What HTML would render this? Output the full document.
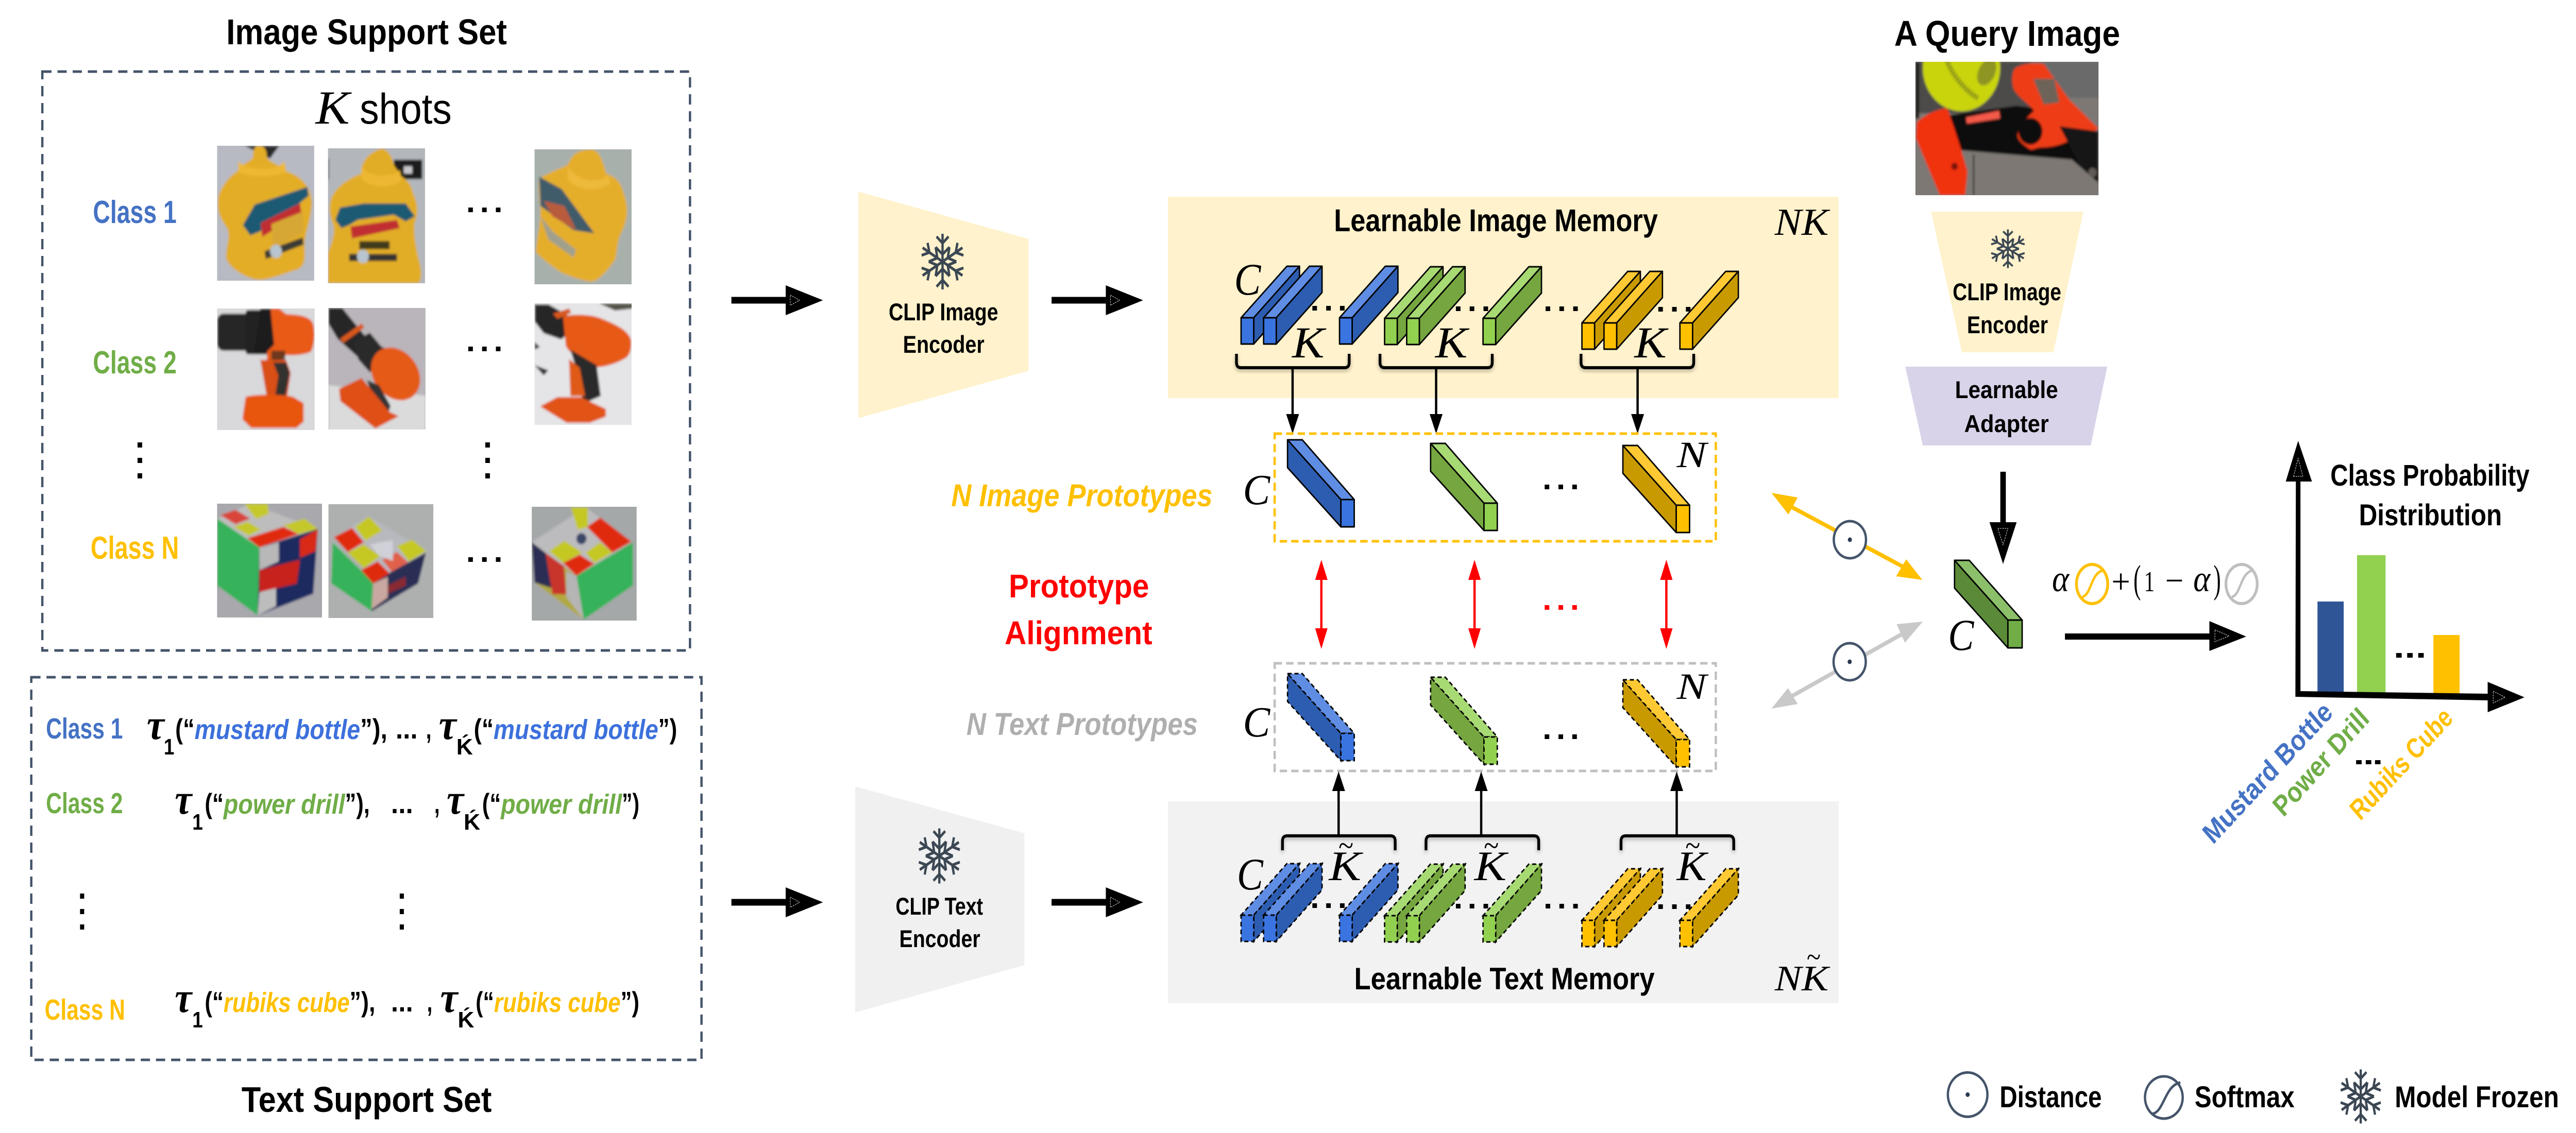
<!DOCTYPE html>
<html lang="en"><head><meta charset="utf-8"><title>Prototype Alignment Diagram</title>
<style>
html,body{margin:0;padding:0;background:#fff;width:100%;height:100%;overflow:hidden}
svg.root{display:block;position:absolute;left:0;top:0;width:100%;height:100%}
text{font-family:"Liberation Sans",sans-serif}
.b{font-weight:700}
.t{font-weight:700;font-size:70px}
.m{font-family:"Liberation Serif",serif;font-style:italic}
.bi{font-weight:700;font-style:italic}
.ta{font-family:"Liberation Serif",serif;font-style:italic;font-weight:700;font-size:84px}
.p{font-weight:700;font-size:55px}
.s{font-weight:700;font-size:44px}
.c1{fill:#4472c4}.c2{fill:#70ad47}.c3{fill:#ffc000}
.q1{fill:#3c70dc}
</style></head><body>
<svg class="root" xmlns="http://www.w3.org/2000/svg" viewBox="0 0 5600 2200" preserveAspectRatio="none">
<defs>
<filter id="bl" x="-5%" y="-5%" width="110%" height="110%"><feGaussianBlur stdDeviation="2.5"/></filter>
<filter id="sh" x="-10%" y="-30%" width="120%" height="170%"><feDropShadow dx="0" dy="4" stdDeviation="4" flood-opacity=".3"/></filter>
<g id="arm"><path d="M0 0V-50M-13 -45L0 -33L13 -45M-15 -26L0 -13L15 -26"/></g>
<g id="flake" fill="none" stroke="#3b4753" stroke-width="5">
<use href="#arm"/><use href="#arm" transform="rotate(60)"/><use href="#arm" transform="rotate(120)"/><use href="#arm" transform="rotate(180)"/><use href="#arm" transform="rotate(240)"/><use href="#arm" transform="rotate(300)"/>
</g>
<g id="mb" stroke="#000" stroke-width="3" stroke-linejoin="round"><path fill="#5f8de3" d="M0 0H27.5L127-100H99.5Z"/><path fill="#2d5db0" d="M27.5 0L127-100V-49L27.5 51Z"/><rect fill="#3a74e0" width="27.5" height="51"/></g>
<g id="mg" stroke="#000" stroke-width="3" stroke-linejoin="round"><path fill="#a8da74" d="M0 0H27.5L127-100H99.5Z"/><path fill="#75a63f" d="M27.5 0L127-100V-49L27.5 51Z"/><rect fill="#92d050" width="27.5" height="51"/></g>
<g id="my" stroke="#000" stroke-width="3" stroke-linejoin="round"><path fill="#ffc933" d="M0 0H27.5L127-100H99.5Z"/><path fill="#c99a00" d="M27.5 0L127-100V-49L27.5 51Z"/><rect fill="#ffc000" width="27.5" height="51"/></g>
<g id="db" stroke="#000" stroke-width="3" stroke-dasharray="9 6"><path fill="#5f8de3" d="M0 0H27.5L127-100H99.5Z"/><path fill="#2d5db0" d="M27.5 0L127-100V-49L27.5 51Z"/><rect fill="#3a74e0" width="27.5" height="51"/></g>
<g id="dg" stroke="#000" stroke-width="3" stroke-dasharray="9 6"><path fill="#a8da74" d="M0 0H27.5L127-100H99.5Z"/><path fill="#75a63f" d="M27.5 0L127-100V-49L27.5 51Z"/><rect fill="#92d050" width="27.5" height="51"/></g>
<g id="dy" stroke="#000" stroke-width="3" stroke-dasharray="9 6"><path fill="#ffc933" d="M0 0H27.5L127-100H99.5Z"/><path fill="#c99a00" d="M27.5 0L127-100V-49L27.5 51Z"/><rect fill="#ffc000" width="27.5" height="51"/></g>
<g id="pb" stroke="#000" stroke-width="3" stroke-linejoin="round"><path fill="#2d5db0" d="M0 0L116 116V169L0 54Z"/><path fill="#5f8de3" d="M0 0H32L145 116H116Z"/><rect x="116" y="116" fill="#3a74e0" width="29" height="53"/></g>
<g id="pg" stroke="#000" stroke-width="3" stroke-linejoin="round"><path fill="#75a63f" d="M0 0L116 116V169L0 54Z"/><path fill="#a8da74" d="M0 0H32L145 116H116Z"/><rect x="116" y="116" fill="#92d050" width="29" height="53"/></g>
<g id="py" stroke="#000" stroke-width="3" stroke-linejoin="round"><path fill="#c99a00" d="M0 0L116 116V169L0 54Z"/><path fill="#ffc933" d="M0 0H32L145 116H116Z"/><rect x="116" y="116" fill="#ffc000" width="29" height="53"/></g>
<g id="qb" stroke="#000" stroke-width="3" stroke-dasharray="9 6"><path fill="#2d5db0" d="M0 0L116 116V169L0 54Z"/><path fill="#5f8de3" d="M0 0H32L145 116H116Z"/><rect x="116" y="116" fill="#3a74e0" width="29" height="53"/></g>
<g id="qg" stroke="#000" stroke-width="3" stroke-dasharray="9 6"><path fill="#75a63f" d="M0 0L116 116V169L0 54Z"/><path fill="#a8da74" d="M0 0H32L145 116H116Z"/><rect x="116" y="116" fill="#92d050" width="29" height="53"/></g>
<g id="qy" stroke="#000" stroke-width="3" stroke-dasharray="9 6"><path fill="#c99a00" d="M0 0L116 116V169L0 54Z"/><path fill="#ffc933" d="M0 0H32L145 116H116Z"/><rect x="116" y="116" fill="#ffc000" width="29" height="53"/></g>
<g id="d3"><rect width="10" height="9"/><rect x="30" width="10" height="9"/><rect x="60" width="10" height="9"/></g>
<g id="v3"><rect width="10" height="10"/><rect y="30" width="10" height="10"/><rect y="60" width="10" height="10"/></g>
<g id="bigR"><rect y="-6.5" width="120" height="13"/><path d="M118 -29L199 0L118 29Z"/><path d="M128 -10L148 0L128 10Z" fill="none" stroke="#fff" stroke-width="1" stroke-dasharray="3 2"/></g>
<path id="hd" d="M-14 0H14L0 38Z"/>
<path id="hu" d="M-14 0H14L0 -38Z"/>
</defs>

<!-- LEFT: image support set -->
<text class="t" x="492" y="86" textLength="610" lengthAdjust="spacingAndGlyphs">Image Support Set</text>
<rect x="92" y="139" width="1408" height="1124" fill="none" stroke="#44546a" stroke-width="5" stroke-dasharray="20 13"/>
<text class="m" x="686" y="240" font-size="92" textLength="74" lengthAdjust="spacingAndGlyphs">K</text>
<text x="782" y="240" font-size="84" textLength="200" lengthAdjust="spacingAndGlyphs">shots</text>
<text class="b c1" x="202" y="433" font-size="62" textLength="182" lengthAdjust="spacingAndGlyphs">Class 1</text>
<text class="b c2" x="202" y="725" font-size="62" textLength="182" lengthAdjust="spacingAndGlyphs">Class 2</text>
<text class="b c3" x="197" y="1085" font-size="62" textLength="192" lengthAdjust="spacingAndGlyphs">Class N</text>

<!-- bottle 1 -->
<svg x="472" y="283" width="211" height="262" viewBox="0 0 211 262"><g filter="url(#bl)">
<rect x="-5" y="-5" width="221" height="272" fill="#b7bac2"/><path d="M60 0L135 0L115 25Z" fill="#2a2a2a"/>
<path d="M88 0C100-2 108 5 108 22C112 32 140 38 146 48C170 55 204 70 206 110C206 140 190 170 190 195C192 220 190 235 175 240C140 250 110 262 85 260C60 255 30 240 20 220C18 195 30 180 22 160C5 140 0 125 2 105C3 85 25 60 46 48C52 35 75 30 78 22C78 10 80 2 88 0Z" fill="#e3ad27"/>
<path d="M46 30C60 48 130 52 146 30L150 50C130 62 60 62 46 50Z" fill="#eeb832"/>
<path d="M56 154L82 114L196 80L199 97L176 114L92 167L72 174Z" fill="#1f5a73"/>
<path d="M95 150L180 112L183 130L98 177Z" fill="#c12d30"/>
<path d="M118 152L186 128L188 168L122 200Z" fill="#d7a735"/>
<path d="M103 205L186 178L188 192L106 220Z" fill="#3a3a36"/><circle cx="128" cy="205" r="13" fill="#b8c4cf"/>
</g></svg>
<!-- bottle 2 -->
<svg x="713" y="288" width="211" height="262" viewBox="0 0 211 262"><g filter="url(#bl)">
<rect x="-5" y="-5" width="221" height="272" fill="#b3b7bc"/><rect x="143" y="22" width="62" height="38" fill="#1c1c1f"/><rect x="165" y="35" width="18" height="14" fill="#c8c8cc"/><rect y="20" width="2" height="40" fill="#222"/>
<path d="M117 0C135 5 140 20 143 32C150 42 156 48 156 52C170 60 182 70 184 85C195 105 197 125 190 140C184 155 190 190 200 225C206 250 200 262 195 262H0V205C6 185 16 170 12 150C4 130 0 115 8 95C16 78 40 60 72 49C72 38 75 32 78 26C85 14 98 6 117 0Z" fill="#e2ad27"/>
<path d="M73 35C90 58 140 58 156 42L160 62C140 78 90 78 72 58Z" fill="#edb730"/>
<path d="M16 139L26 115L78 107L169 107L189 132L169 142L143 129L65 139L46 149L29 155Z" fill="#1f5a73"/>
<path d="M49 152L150 139L156 155L52 175Z" fill="#c12d30"/>
<rect x="46" y="205" width="104" height="14" fill="#333"/><circle cx="76" cy="210" r="13" fill="#b8c4cf"/>
<rect x="68" y="180" width="66" height="16" fill="#3f3a1c"/>
</g></svg>
<!-- bottle 3 -->
<svg x="1162" y="290" width="211" height="262" viewBox="0 0 211 262"><g filter="url(#bl)">
<rect x="-5" y="-5" width="221" height="272" fill="#a8b0ac"/>
<path d="M124 0C140 2 148 20 156 47C172 52 186 60 192 80C204 110 205 130 190 160C180 175 180 195 176 213C160 235 140 255 124 257C100 255 75 245 59 240C35 225 15 212 3 200C5 170 13 150 13 117C10 95 8 75 10 57C30 45 55 38 72 30C78 18 85 10 91 7C100 2 112 0 124 0Z" fill="#e5ae2b"/>
<path d="M74 32C85 62 140 68 160 50L165 66C140 84 85 80 72 56Z" fill="#eeba3a"/>
<path d="M10 53L59 77L130 163L85 157L13 110Z" fill="#405c6a"/>
<path d="M20 100L65 110L91 157L39 130Z" fill="#b85c3c"/>
<path d="M13 130L40 160L90 195L85 210L30 175Z" fill="#a0a08c"/>
</g></svg>
<!-- drill 1 -->
<svg x="472" y="599" width="212" height="236" viewBox="0 0 212 236"><g filter="url(#bl)">
<rect x="-5" y="-5" width="222" height="246" fill="#d9d8db"/>
<rect x="0" y="10" width="80" height="72" rx="14" fill="#262626"/><rect x="62" y="3" width="68" height="86" rx="6" fill="#222"/>
<path d="M112 0H135L150 11C175 12 200 14 208 28C214 45 212 70 204 84C190 90 165 92 150 90L135 104H108Z" fill="#e85a14"/>
<path d="M94 0H116L124 70L104 88H80Z" fill="#1f1f1f"/>
<rect x="118" y="82" width="30" height="22" fill="#3a2a20" opacity=".7"/>
<path d="M94 100H150L160 125L152 172H108L100 130Z" fill="#d94f14"/><path d="M122 105H150L158 125L148 172H126L133 130Z" fill="#33322f"/>
<path d="M62 172C75 166 150 166 166 172L188 184V220L172 232H74L55 215Z" fill="#e8550f"/>
</g></svg>
<!-- drill 2 -->
<svg x="714" y="598" width="211" height="236" viewBox="0 0 211 236"><g filter="url(#bl)">
<rect x="-5" y="-5" width="221" height="246" fill="#b9b5ba"/><path d="M0 150L211 170V241H0Z" fill="#dcdbdc"/>
<path d="M0 0H30L80 55L105 75L70 100L20 60L0 30Z" fill="#272727"/>
<path d="M25 60L72 30L78 38L32 68Z" fill="#d8581e"/>
<path d="M55 65L90 48L115 75L140 85L90 125L65 100Z" fill="#2a2a2a"/>
<ellipse cx="146" cy="128" rx="58" ry="46" transform="rotate(40 146 128)" fill="#e55a15"/>
<path d="M84 140L110 150L135 190L130 205L105 200Z" fill="#333"/>
<path d="M23 157L72 136L133 202L153 210L102 234L26 181Z" fill="#df5014"/>
</g></svg>
<!-- drill 3 -->
<svg x="1162" y="589" width="211" height="236" viewBox="0 0 211 236"><g filter="url(#bl)">
<rect x="-5" y="-5" width="221" height="246" fill="#e5e5e7"/><path d="M140 0H216V10L175 14Z" fill="#55534a"/>
<path d="M0 2H30L70 22L85 50L58 70L20 58L0 35Z" fill="#262626"/><path d="M40 20L75 10L80 18L50 30Z" fill="#d8581e"/>
<path d="M62 25C90 20 125 22 144 29C175 40 205 52 210 72C212 92 205 104 195 108C175 118 150 124 134 124C105 112 78 100 68 83Z" fill="#e65a15"/>
<path d="M78 90L135 120L144 180L105 195L95 140Z" fill="#2c2c2c"/>
<path d="M75 108L98 125L110 180L78 180Z" fill="#df5a16"/>
<path d="M12 200L50 182H100L155 205V220L120 232H70Z" fill="#e25212"/>
<path d="M0 75L12 85L0 90ZM0 120L30 130L20 140Z" fill="#333"/>
</g></svg>
<!-- cube 1 -->
<svg x="472" y="978" width="228" height="221" viewBox="0 0 228 221"><g filter="url(#bl)">
<rect x="-5" y="-5" width="238" height="231" fill="#a8a8ad"/>
<path d="M0 29L72 0L219 49L92 85Z" fill="#bdbdbd"/>
<path d="M0 29L92 85L88 217L0 159Z" fill="#35b25a"/>
<path d="M92 85L219 49L209 175L88 217Z" fill="#1c2a5e"/>
<path d="M7 22L40 12L72 29L40 40Z" fill="#d8453a"/><path d="M59 0H110L112 20L85 30Z" fill="#c5c82a"/>
<path d="M36 45L66 35L95 50L69 62Z" fill="#c5c82a"/><path d="M144 42L190 29L219 49L177 59Z" fill="#c5c82a"/>
<path d="M66 67L144 45L177 59L92 85Z" fill="#e02a10"/><path d="M180 69L219 50L214 92L180 105Z" fill="#d82a14"/>
<path d="M92 85L134 75V112L92 129Z" fill="#b8b8b8"/><path d="M92 129L180 109L173 155L92 172Z" fill="#c8241a"/><path d="M92 172L128 164V199L88 217Z" fill="#bdbdbd"/>
</g></svg>
<!-- cube 2 -->
<svg x="714" y="979" width="228" height="221" viewBox="0 0 228 221"><g filter="url(#bl)">
<rect x="-5" y="-5" width="238" height="231" fill="#aeb0b0"/>
<path d="M12 64L88 24L212 91L130 153Z" fill="#b8b8c0"/>
<path d="M9 74L97 151L94 208L6 154Z" fill="#35b25a"/>
<path d="M97 151L212 94L195 154L94 208Z" fill="#2a2f55"/>
<path d="M12 64L51 46L77 74L42 93Z" fill="#e02a10"/><path d="M58 44L88 24L117 51L81 71Z" fill="#c5c820"/>
<path d="M42 94L77 78L113 101L77 124Z" fill="#c5c820"/><path d="M71 128L107 111L133 134L97 154Z" fill="#e02a10"/>
<path d="M117 108L149 93L173 113L137 131Z" fill="#e0604a"/><path d="M149 81L182 69L212 91L175 111Z" fill="#c5c820"/>
<path d="M90 78L140 70V110L110 100Z" fill="#d0d0d8"/><path d="M97 154L129 141V181L94 204Z" fill="#c8a8a0"/><path d="M129 158L168 141V158L129 174Z" fill="#8a2a30"/>
</g></svg>
<!-- cube 3 -->
<svg x="1156" y="984" width="228" height="221" viewBox="0 0 228 221"><g filter="url(#bl)">
<rect x="-5" y="-5" width="238" height="231" fill="#a5a8a8"/>
<path d="M0 69L117 1L217 69L97 134Z" fill="#bcbcbf"/>
<path d="M97 134L220 69V153L113 219Z" fill="#35b25a"/>
<path d="M0 69L97 134L113 219L6 147Z" fill="#b0a840"/>
<path d="M0 69L45 100L50 160L6 147Z" fill="#2a2f55"/><path d="M30 90L70 115L75 170L45 170Z" fill="#c8352a"/>
<path d="M75 125L97 134L113 219L75 175Z" fill="#b5b5b5"/>
<path d="M85 1H122V39L100 45Z" fill="#c5c820"/><path d="M120 39L149 21L217 68L175 89Z" fill="#e02a10"/>
<path d="M38 86L71 66L110 89L68 109Z" fill="#c5c820"/><path d="M117 89L149 69L175 89L136 109Z" fill="#c5c820"/>
<path d="M68 109L104 93L136 111L97 134Z" fill="#e02a10"/><circle cx="108" cy="62" r="11" fill="#3a4668"/>
</g></svg>
<use href="#d3" transform="translate(1018,403)"/><use href="#d3" transform="translate(1018,673)"/><use href="#d3" transform="translate(1018,1082)"/>
<use href="#v3" transform="translate(299,859)"/><use href="#v3" transform="translate(1055,859)"/>

<!-- text support set -->
<rect x="68" y="1315" width="1457" height="743" fill="none" stroke="#44546a" stroke-width="5" stroke-dasharray="20 13"/>
<text class="b c1" x="100" y="1434" font-size="57" textLength="167" lengthAdjust="spacingAndGlyphs">Class 1</text>
<text class="b c2" x="100" y="1579" font-size="57" textLength="167" lengthAdjust="spacingAndGlyphs">Class 2</text>
<text class="b c3" x="97" y="1980" font-size="57" textLength="175" lengthAdjust="spacingAndGlyphs">Class N</text>
<text class="ta" x="319" y="1435" textLength="38" lengthAdjust="spacingAndGlyphs">τ</text><text class="s" x="356" y="1465" textLength="23" lengthAdjust="spacingAndGlyphs">1</text>
<text class="p" x="381" y="1434" textLength="42" lengthAdjust="spacingAndGlyphs">(“</text>
<text class="bi q1" x="423" y="1435" font-size="54" textLength="360" lengthAdjust="spacingAndGlyphs">mustard bottle</text>
<text class="p" x="783" y="1434" textLength="59" lengthAdjust="spacingAndGlyphs">”),</text>
<text class="p" x="860" y="1434" textLength="48" lengthAdjust="spacingAndGlyphs">...</text><text class="p" x="926" y="1434" textLength="12" lengthAdjust="spacingAndGlyphs">,</text>
<text class="ta" x="954" y="1435" textLength="38" lengthAdjust="spacingAndGlyphs">τ</text><text class="s" x="992" y="1465" textLength="36" lengthAdjust="spacingAndGlyphs">Ḱ</text>
<text class="p" x="1030" y="1434" textLength="43" lengthAdjust="spacingAndGlyphs">(“</text>
<text class="bi q1" x="1073" y="1435" font-size="54" textLength="358" lengthAdjust="spacingAndGlyphs">mustard bottle</text>
<text class="p" x="1431" y="1434" textLength="41" lengthAdjust="spacingAndGlyphs">”)</text>
<text class="ta" x="380" y="1580" textLength="37" lengthAdjust="spacingAndGlyphs">τ</text><text class="s" x="418" y="1611" textLength="23" lengthAdjust="spacingAndGlyphs">1</text>
<text class="p" x="445" y="1579" textLength="41" lengthAdjust="spacingAndGlyphs">(“</text>
<text class="bi c2" x="486" y="1580" font-size="54" textLength="264" lengthAdjust="spacingAndGlyphs">power drill</text>
<text class="p" x="750" y="1579" textLength="54" lengthAdjust="spacingAndGlyphs">”),</text>
<text class="p" x="850" y="1579" textLength="48" lengthAdjust="spacingAndGlyphs">...</text><text class="p" x="944" y="1579" textLength="12" lengthAdjust="spacingAndGlyphs">,</text>
<text class="ta" x="971" y="1580" textLength="37" lengthAdjust="spacingAndGlyphs">τ</text><text class="s" x="1008" y="1611" textLength="36" lengthAdjust="spacingAndGlyphs">Ḱ</text>
<text class="p" x="1048" y="1579" textLength="41" lengthAdjust="spacingAndGlyphs">(“</text>
<text class="bi c2" x="1089" y="1580" font-size="54" textLength="263" lengthAdjust="spacingAndGlyphs">power drill</text>
<text class="p" x="1352" y="1579" textLength="38" lengthAdjust="spacingAndGlyphs">”)</text>
<text class="ta" x="380" y="1965" textLength="37" lengthAdjust="spacingAndGlyphs">τ</text><text class="s" x="418" y="1995" textLength="23" lengthAdjust="spacingAndGlyphs">1</text>
<text class="p" x="445" y="1964" textLength="41" lengthAdjust="spacingAndGlyphs">(“</text>
<text class="bi c3" x="486" y="1965" font-size="54" textLength="274" lengthAdjust="spacingAndGlyphs">rubiks cube</text>
<text class="p" x="760" y="1964" textLength="56" lengthAdjust="spacingAndGlyphs">”),</text>
<text class="p" x="850" y="1964" textLength="48" lengthAdjust="spacingAndGlyphs">...</text><text class="p" x="928" y="1964" textLength="12" lengthAdjust="spacingAndGlyphs">,</text>
<text class="ta" x="957" y="1965" textLength="38" lengthAdjust="spacingAndGlyphs">τ</text><text class="s" x="995" y="1995" textLength="36" lengthAdjust="spacingAndGlyphs">Ḱ</text>
<text class="p" x="1034" y="1964" textLength="40" lengthAdjust="spacingAndGlyphs">(“</text>
<text class="bi c3" x="1074" y="1965" font-size="54" textLength="275" lengthAdjust="spacingAndGlyphs">rubiks cube</text>
<text class="p" x="1349" y="1964" textLength="41" lengthAdjust="spacingAndGlyphs">”)</text>
<g><rect x="174" y="1735" width="9" height="10"/><rect x="174" y="1765" width="9" height="10"/><rect x="174" y="1795" width="9" height="10"/><rect x="869" y="1735" width="9" height="10"/><rect x="869" y="1765" width="9" height="10"/><rect x="869" y="1795" width="9" height="10"/></g>
<text class="t" x="525" y="2159" textLength="544" lengthAdjust="spacingAndGlyphs">Text Support Set</text>

<!-- flow arrows -->
<use href="#bigR" transform="translate(1590,583)"/><use href="#bigR" transform="translate(2286,583)"/>
<use href="#bigR" transform="translate(1590,1752)"/><use href="#bigR" transform="translate(2286,1752)"/>

<!-- encoders -->
<path d="M1866 372L2236 464V720L1866 812Z" fill="#fff2cc"/>
<use href="#flake" transform="translate(2049,508) scale(1,1.08)"/>
<text class="b" x="1932" y="622" font-size="47" textLength="238" lengthAdjust="spacingAndGlyphs">CLIP Image</text>
<text class="b" x="1963" y="685" font-size="47" textLength="177" lengthAdjust="spacingAndGlyphs">Encoder</text>
<path d="M1859 1527L2227 1618V1874L1859 1966Z" fill="#f0f0f0"/>
<use href="#flake" transform="translate(2042,1662) scale(.98,1.07)"/>
<text class="b" x="1947" y="1776" font-size="47" textLength="190" lengthAdjust="spacingAndGlyphs">CLIP Text</text>
<text class="b" x="1955" y="1839" font-size="47" textLength="176" lengthAdjust="spacingAndGlyphs">Encoder</text>

<!-- image memory -->
<rect x="2539" y="382" width="1458" height="391" fill="#fff2cc"/>
<text class="b" x="2900" y="449" font-size="61" textLength="704" lengthAdjust="spacingAndGlyphs">Learnable Image Memory</text>
<text class="m" x="3858" y="456" font-size="74" textLength="117" lengthAdjust="spacingAndGlyphs">NK</text>
<g fill="#000"><use href="#d3" transform="translate(2853,594)"/><use href="#d3" transform="translate(3165,595)"/><use href="#d3" transform="translate(3360,595)"/><use href="#d3" transform="translate(3605,596)"/></g>
<use href="#mb" transform="translate(2698,617)"/><use href="#mb" transform="translate(2747,617)"/><use href="#mb" transform="translate(2912,617)"/>
<use href="#mg" transform="translate(3010,618)"/><use href="#mg" transform="translate(3058,618)"/><use href="#mg" transform="translate(3224,618)"/>
<use href="#my" transform="translate(3439,627)"/><use href="#my" transform="translate(3487,627)"/><use href="#my" transform="translate(3652,627)"/>
<text class="m" x="2683" y="572" font-size="88" textLength="58" lengthAdjust="spacingAndGlyphs">C</text>
<text class="m" x="2809" y="694" font-size="86" textLength="70" lengthAdjust="spacingAndGlyphs">K</text>
<text class="m" x="3120" y="694" font-size="86" textLength="70" lengthAdjust="spacingAndGlyphs">K</text>
<text class="m" x="3553" y="694" font-size="86" textLength="70" lengthAdjust="spacingAndGlyphs">K</text>
<g fill="none" stroke="#000" stroke-width="6" filter="url(#sh)">
<path d="M2688 687V704Q2688 714 2698 714H2923Q2933 714 2933 704V687"/>
<path d="M3000 687V704Q3000 714 3010 714H3234Q3244 714 3244 704V687"/>
<path d="M3437 687V704Q3437 714 3447 714H3672Q3682 714 3682 704V687"/>
</g>
<path d="M2810 717V806M3122 717V806M3560 717V806" stroke="#000" stroke-width="5"/>
<use href="#hd" transform="translate(2810,804)"/><use href="#hd" transform="translate(3122,804)"/><use href="#hd" transform="translate(3560,804)"/>

<!-- image prototypes -->
<rect x="2771" y="842" width="959" height="209" fill="none" stroke="#ffc000" stroke-width="5" stroke-dasharray="16 9"/>
<use href="#pb" transform="translate(2799,854)"/><use href="#pg" transform="translate(3110,861)"/><use href="#py" transform="translate(3528,865)"/>
<use href="#d3" transform="translate(3358,941)"/>
<text class="m" x="3645" y="907" font-size="72" textLength="65" lengthAdjust="spacingAndGlyphs">N</text>
<text class="m" x="2702" y="979" font-size="84" textLength="59" lengthAdjust="spacingAndGlyphs">C</text>
<text class="bi c3" x="2068" y="983" font-size="61" textLength="568" lengthAdjust="spacingAndGlyphs">N Image Prototypes</text>

<!-- alignment -->
<text class="b" x="2193" y="1160" font-size="64" fill="#f00" textLength="305" lengthAdjust="spacingAndGlyphs">Prototype</text>
<text class="b" x="2184" y="1251" font-size="64" fill="#f00" textLength="321" lengthAdjust="spacingAndGlyphs">Alignment</text>
<g fill="#f00" stroke="none">
<rect x="2870" y="1120" width="5" height="110"/><rect x="3203" y="1120" width="5" height="110"/><rect x="3620" y="1120" width="5" height="110"/>
<path d="M2872.5 1087L2886 1126H2859ZM2872.5 1260L2886 1220H2859Z"/>
<path d="M3205.5 1087L3219 1126H3192ZM3205.5 1260L3219 1220H3192Z"/>
<path d="M3622.5 1087L3636 1126H3609ZM3622.5 1260L3636 1220H3609Z"/>
<use href="#d3" transform="translate(3358,1175)"/>
</g>

<!-- text prototypes -->
<rect x="2771" y="1288" width="959" height="209" fill="none" stroke="#bfbfbf" stroke-width="5" stroke-dasharray="16 9"/>
<use href="#qb" transform="translate(2799,1308)"/><use href="#qg" transform="translate(3110,1315)"/><use href="#qy" transform="translate(3528,1320)"/>
<use href="#d3" transform="translate(3358,1426)"/>
<text class="m" x="3645" y="1357" font-size="72" textLength="65" lengthAdjust="spacingAndGlyphs">N</text>
<text class="m" x="2702" y="1430" font-size="84" textLength="59" lengthAdjust="spacingAndGlyphs">C</text>
<text class="bi" x="2101" y="1427" font-size="61" fill="#afafaf" textLength="503" lengthAdjust="spacingAndGlyphs">N Text Prototypes</text>

<!-- text memory -->
<rect x="2539" y="1556" width="1458" height="392" fill="#f2f2f2"/>
<path d="M2910 1533V1621M3220 1533V1621M3645 1533V1621" stroke="#000" stroke-width="5"/>
<use href="#hu" transform="translate(2910,1536)"/><use href="#hu" transform="translate(3220,1536)"/><use href="#hu" transform="translate(3645,1536)"/>
<g fill="none" stroke="#000" stroke-width="6" filter="url(#sh)">
<path d="M2788 1651V1633Q2788 1623 2798 1623H3023Q3033 1623 3033 1633V1651"/>
<path d="M3100 1651V1633Q3100 1623 3110 1623H3335Q3345 1623 3345 1633V1651"/>
<path d="M3524 1651V1633Q3524 1623 3534 1623H3759Q3769 1623 3769 1633V1651"/>
</g>
<text class="b" x="2944" y="1921" font-size="60" textLength="653" lengthAdjust="spacingAndGlyphs">Learnable Text Memory</text>
<text class="m" x="3858" y="1923" font-size="70" textLength="117" lengthAdjust="spacingAndGlyphs">NK</text>
<text class="m" x="3927" y="1877" font-size="56">~</text>
<g><use href="#d3" transform="translate(2853,1754)"/><use href="#d3" transform="translate(3165,1755)"/><use href="#d3" transform="translate(3360,1755)"/><use href="#d3" transform="translate(3605,1756)"/></g>
<use href="#db" transform="translate(2698,1777)"/><use href="#db" transform="translate(2747,1777)"/><use href="#db" transform="translate(2912,1777)"/>
<use href="#dg" transform="translate(3010,1778)"/><use href="#dg" transform="translate(3058,1778)"/><use href="#dg" transform="translate(3224,1778)"/>
<use href="#dy" transform="translate(3439,1787)"/><use href="#dy" transform="translate(3487,1787)"/><use href="#dy" transform="translate(3652,1787)"/>
<text class="m" x="2689" y="1727" font-size="88" textLength="57" lengthAdjust="spacingAndGlyphs">C</text>
<text class="m" x="2889" y="1709" font-size="82" textLength="70" lengthAdjust="spacingAndGlyphs">K</text><text class="m" x="2909" y="1662" font-size="60">~</text>
<text class="m" x="3205" y="1709" font-size="82" textLength="70" lengthAdjust="spacingAndGlyphs">K</text><text class="m" x="3225" y="1662" font-size="60">~</text>
<text class="m" x="3645" y="1709" font-size="82" textLength="65" lengthAdjust="spacingAndGlyphs">K</text><text class="m" x="3663" y="1662" font-size="60">~</text>

<!-- query -->
<text class="t" x="4118" y="89" textLength="491" lengthAdjust="spacingAndGlyphs">A Query Image</text>
<svg x="4164" y="120" width="398" height="259" viewBox="0 0 398 259"><g filter="url(#bl)">
<rect x="-5" y="-5" width="408" height="269" fill="#7d7873"/>
<rect x="0" y="0" width="260" height="100" fill="#4d4b48"/><rect x="250" y="0" width="150" height="70" fill="#6a6a6a"/>
<rect x="0" y="0" width="8" height="110" fill="#1d1b18"/>
<circle cx="100" cy="12" r="84" fill="#c9d40c"/><path d="M65-10C80 30 115 60 135 70" fill="none" stroke="#6d701a" stroke-width="10" stroke-dasharray="4 3"/><ellipse cx="155" cy="20" rx="18" ry="28" fill="#8f9520" transform="rotate(30 155 20)"/>
<path d="M60 105L220 85L340 100L398 170V235L340 190L100 172Z" fill="#0e0c0b"/>
<path d="M110 108L182 95L184 110L112 120Z" fill="#f45a4a"/>
<path d="M216 13C235 2 260 2 279 4C300 30 315 50 336 75C360 95 380 115 398 129C385 140 365 142 348 146C325 160 300 165 279 166C265 165 255 172 250 170C240 165 225 155 222 145C222 130 235 115 258 95C245 80 225 70 214 54C208 38 210 22 216 13Z" fill="#ee3d12"/>
<path d="M256 33L302 33L313 79L279 83Z" fill="#6d6358"/><circle cx="250" cy="135" r="26" fill="#0f0d0c"/>
<path d="M313 125L398 135V228L360 205Z" fill="#151312"/><circle cx="385" cy="215" r="9" fill="#605a55"/>
<path d="M3 117C25 100 50 92 69 90C85 130 100 170 113 213L108 259H53C35 220 15 180 1 147Z" fill="#f03010"/><circle cx="85" cy="203" r="7" fill="#7a1208"/>
<rect x="125" y="180" width="3" height="79" fill="#222"/>
</g></svg>
<path d="M4198 411H4529L4464 684H4265Z" fill="#fff2cc"/>
<use href="#flake" transform="translate(4365,483) scale(.8,.75)"/>
<text class="b" x="4245" y="583" font-size="47" textLength="236" lengthAdjust="spacingAndGlyphs">CLIP Image</text>
<text class="b" x="4276" y="647" font-size="47" textLength="176" lengthAdjust="spacingAndGlyphs">Encoder</text>
<path d="M4142 712H4581L4545 865H4180Z" fill="#d9d3e9"/>
<text class="b" x="4250" y="773" font-size="47" textLength="224" lengthAdjust="spacingAndGlyphs">Learnable</text>
<text class="b" x="4270" y="839" font-size="47" textLength="184" lengthAdjust="spacingAndGlyphs">Adapter</text>
<rect x="4348.5" y="916" width="12" height="100"/><path d="M4325 1014H4384L4354.5 1095Z"/>
<path d="M4343 1026H4365L4354.5 1058Z" fill="none" stroke="#fff" stroke-width="1" stroke-dasharray="3 2"/>

<!-- yellow/gray connection -->
<line x1="3875" y1="975" x2="4155" y2="1109" stroke="#ffc000" stroke-width="8"/>
<path d="M3851 957L3908 966L3888 999Z" fill="#ffc000"/><path d="M4179 1126L4122 1119L4144 1086Z" fill="#ffc000"/>
<ellipse cx="4021.5" cy="1048" rx="35" ry="36" fill="#fff" stroke="#44546a" stroke-width="5"/><circle cx="4021.5" cy="1048" r="4.5" fill="#2b3a52"/>
<line x1="3875" y1="1362" x2="4155" y2="1221" stroke="#c9c9c9" stroke-width="8"/>
<path d="M3851 1376L3908 1367L3887 1336Z" fill="#c9c9c9"/><path d="M4180 1207L4123 1212L4141 1248Z" fill="#c9c9c9"/>
<ellipse cx="4021" cy="1285" rx="35" ry="36" fill="#fff" stroke="#44546a" stroke-width="5"/><circle cx="4021" cy="1285" r="4.5" fill="#2b3a52"/>

<!-- query prism -->
<g stroke="#000" stroke-width="3" stroke-linejoin="round"><path fill="#5b8a38" d="M4249 1088L4365 1204V1258L4249 1142Z"/><path fill="#8cbf6a" d="M4249 1088H4281L4396 1204H4365Z"/><rect x="4365" y="1204" width="31" height="54" fill="#70ad47"/></g>
<text class="m" x="4235" y="1262" font-size="86" textLength="56" lengthAdjust="spacingAndGlyphs">C</text>

<!-- formula -->
<text class="m" x="4461" y="1148" font-size="72" textLength="37" lengthAdjust="spacingAndGlyphs">α</text>
<ellipse cx="4548" cy="1134" rx="34" ry="38" fill="none" stroke="#ffc000" stroke-width="6"/>
<path d="M4527 1159C4546 1155 4545 1115 4570 1108" fill="none" stroke="#ffc000" stroke-width="5"/>
<text x="4590" y="1152" font-size="68" style="font-family:'Liberation Serif',serif" textLength="41" lengthAdjust="spacingAndGlyphs">+</text>
<text x="4638" y="1150" font-size="76" style="font-family:'Liberation Serif',serif" textLength="16" lengthAdjust="spacingAndGlyphs">(</text>
<text x="4661" y="1148" font-size="56" style="font-family:'Liberation Serif',serif" textLength="23" lengthAdjust="spacingAndGlyphs">1</text>
<text x="4707" y="1150" font-size="68" style="font-family:'Liberation Serif',serif" textLength="40" lengthAdjust="spacingAndGlyphs">−</text>
<text class="m" x="4768" y="1148" font-size="72" textLength="37" lengthAdjust="spacingAndGlyphs">α</text>
<text x="4812" y="1150" font-size="76" style="font-family:'Liberation Serif',serif" textLength="16" lengthAdjust="spacingAndGlyphs">)</text>
<ellipse cx="4873" cy="1134" rx="34" ry="38" fill="none" stroke="#bfbfbf" stroke-width="6"/>
<path d="M4852 1159C4871 1155 4870 1115 4895 1108" fill="none" stroke="#bfbfbf" stroke-width="5"/>
<rect x="4489" y="1230" width="316" height="12"/><path d="M4803 1206L4883 1236L4803 1264Z"/>
<path d="M4815 1223L4846 1235L4815 1246Z" fill="none" stroke="#fff" stroke-width="1" stroke-dasharray="3 2"/>

<!-- chart -->
<rect x="5038" y="1168" width="57" height="180" fill="#2f5597"/><rect x="5124" y="1078" width="62" height="270" fill="#92d050"/><rect x="5290" y="1233" width="57" height="118" fill="#ffc000"/>
<path d="M4990 1348L4991 930H5001V1342L5410 1347V1360L4990 1353Z"/>
<path d="M4969 935L4996 856L5026 935Z"/><path d="M5408 1324L5488 1354L5408 1383Z"/>
<path d="M4986 925L4996 890L5006 925Z" fill="none" stroke="#fff" stroke-width="1" stroke-dasharray="3 2"/>
<path d="M5420 1342L5446 1354L5420 1365Z" fill="none" stroke="#fff" stroke-width="1" stroke-dasharray="3 2"/>
<rect x="5209" y="1268" width="12" height="9"/><rect x="5233" y="1268" width="12" height="9"/><rect x="5257" y="1268" width="12" height="9"/>
<text class="b" x="5066" y="943" font-size="58" textLength="433" lengthAdjust="spacingAndGlyphs">Class Probability</text>
<text class="b" x="5128" y="1020" font-size="58" textLength="311" lengthAdjust="spacingAndGlyphs">Distribution</text>
<text class="b c1" transform="translate(4811,1641) rotate(-44)" font-size="56" textLength="366" lengthAdjust="spacingAndGlyphs">Mustard Bottle</text>
<text class="b c2" transform="translate(4964,1588) rotate(-45)" font-size="56" textLength="268" lengthAdjust="spacingAndGlyphs">Power Drill</text>
<text class="b c3" transform="translate(5131,1595) rotate(-44)" font-size="56" textLength="284" lengthAdjust="spacingAndGlyphs">Rubiks Cube</text>
<rect x="5122" y="1476" width="12" height="8"/><rect x="5143" y="1476" width="12" height="8"/><rect x="5163" y="1476" width="12" height="8"/>

<!-- legend -->
<circle cx="4277.5" cy="2125.5" r="43" fill="none" stroke="#44546a" stroke-width="5"/><circle cx="4277.5" cy="2125.5" r="4.5" fill="#2b3a52"/>
<text class="b" x="4347" y="2150" font-size="58" textLength="222" lengthAdjust="spacingAndGlyphs">Distance</text>
<circle cx="4704" cy="2131" r="41" fill="none" stroke="#44546a" stroke-width="5"/>
<path d="M4678 2163C4705 2160 4705 2108 4740 2102" fill="none" stroke="#44546a" stroke-width="5"/>
<text class="b" x="4771" y="2150" font-size="58" textLength="217" lengthAdjust="spacingAndGlyphs">Softmax</text>
<use href="#flake" transform="translate(5132,2129) scale(.96,1.05)"/>
<text class="b" x="5206" y="2150" font-size="58" textLength="357" lengthAdjust="spacingAndGlyphs">Model Frozen</text>
</svg>
</body></html>
